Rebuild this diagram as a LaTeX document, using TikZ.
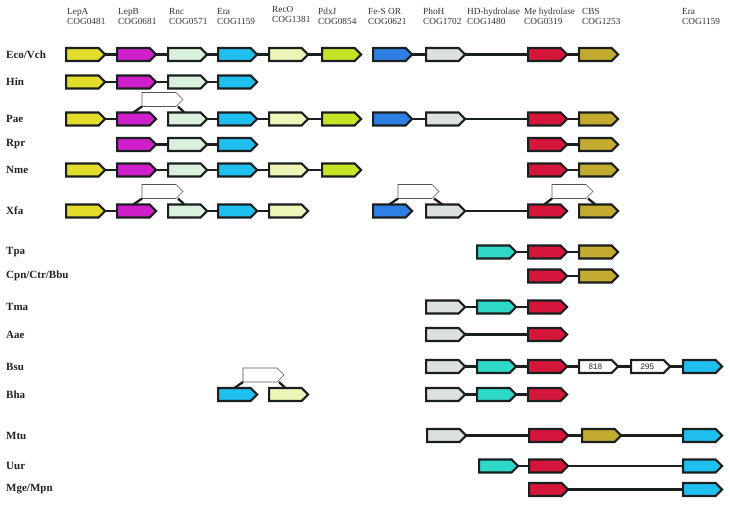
\documentclass[tikz,border=0pt]{standalone}
\usepackage{fontspec}
\setmainfont{Liberation Serif}
\newfontfamily\numfont{Liberation Sans}
\usetikzlibrary{shapes.symbols,calc}
\definecolor{cYellow}{HTML}{E3DC2B}
\definecolor{cMag}{HTML}{CF1FCB}
\definecolor{cMint}{HTML}{D9F1DC}
\definecolor{cCyan}{HTML}{1FBFEF}
\definecolor{cPale}{HTML}{EDF5B8}
\definecolor{cLime}{HTML}{C4E526}
\definecolor{cBlue}{HTML}{2D7FE3}
\definecolor{cGray}{HTML}{DCE0DF}
\definecolor{cTeal}{HTML}{2FD9C9}
\definecolor{cRed}{HTML}{D3163A}
\definecolor{cGold}{HTML}{C2AB2E}
\definecolor{edge}{HTML}{1A1E1E}
\definecolor{insedge}{HTML}{555555}
\definecolor{labtxt}{HTML}{222222}
\definecolor{hdrtxt}{HTML}{333333}
\newcommand\gn[4]{\node[gene,fill=#4] (#1) at (#2+1.1,#3) {};}
\begin{document}
\begin{tikzpicture}[x=1pt,y=-1pt,
 gene/.style={signal, signal to=east, draw=edge, line width=2.2pt, minimum width=39pt, minimum height=13pt, inner sep=0pt, outer sep=0pt, anchor=west},
 ins/.style={signal, signal to=east, draw=insedge, line width=0.6pt, fill=white, minimum width=41pt, minimum height=14pt, inner sep=0pt, outer sep=0pt, anchor=west},
 link/.style={draw=edge, line width=2.3pt},
 lab/.style={anchor=west, font=\fontsize{11}{12}\selectfont\bfseries, text=labtxt, inner sep=0pt},
 hdr/.style={anchor=north west, align=left, font=\fontsize{9.3}{10}\selectfont, inner sep=0pt, text=hdrtxt},
 num/.style={font=\numfont\fontsize{8}{9}\selectfont, text=labtxt}]
\fill[white] (0,0) rectangle (730,504);
\useasboundingbox (0,0) rectangle (730,504);
% headers
\node[hdr] (hA) at (67,8) {LepA\\COG0481};
\node[hdr] (hB) at (118,8) {LepB\\COG0681};
\node[hdr] (hC) at (169,8) {Rnc\\COG0571};
\node[hdr] (hD) at (217,8) {Era\\COG1159};
\node[hdr] (hE) at (272,6) {RecO\\COG1381};
\node[hdr] (hF) at (318,8) {PdxJ\\COG0854};
\node[hdr] (hG) at (368,8) {Fe-S OR\\COG0621};
\node[hdr] (hH) at (423,8) {PhoH\\COG1702};
\node[hdr] (hI) at (467,8) {HD-hydrolase\\COG1480};
\node[hdr] (hJ) at (524,8) {Me hydrolase\\COG0319};
\node[hdr] (hK) at (582,8) {CBS\\COG1253};
\node[hdr] (hL) at (682,8) {Era\\COG1159};
% labels
\node[lab] (l1) at (6,54.5) {Eco/Vch};
\node[lab] (l2) at (6,82) {Hin};
\node[lab] (l3) at (6,119) {Pae};
\node[lab] (l4) at (6,144.5) {Rpr};
\node[lab] (l5) at (6,170) {Nme};
\node[lab] (l6) at (6,211) {Xfa};
\node[lab] (l7) at (6,252) {Tpa};
\node[lab] (l8) at (6,276) {Cpn/Ctr/Bbu};
\node[lab] (l9) at (6,307) {Tma};
\node[lab] (l10) at (6,334.5) {Aae};
\node[lab] (l11) at (6,366.5) {Bsu};
\node[lab] (l12) at (6,394.5) {Bha};
\node[lab] (l13) at (6,435.5) {Mtu};
\node[lab] (l14) at (6,466) {Uur};
\node[lab] (l15) at (6,489.5) {Mge/Mpn};
% Eco/Vch
\gn{e1}{65}{54.5}{cYellow}\gn{e2}{116}{54.5}{cMag}\gn{e3}{167}{54.5}{cMint}
\gn{e4}{217}{54.5}{cCyan}\gn{e5}{268}{54.5}{cPale}\gn{e6}{321}{54.5}{cLime}
\gn{e7}{372}{54.5}{cBlue}\gn{e8}{425}{54.5}{cGray}\gn{e10}{527}{54.5}{cRed}\gn{e11}{578}{54.5}{cGold}
\draw[link] (e1.east)--(e2.west) (e2.east)--(e3.west) (e3.east)--(e4.west) (e4.east)--(e5.west) (e5.east)--(e6.west)
 (e7.east)--(e8.west) (e8.east)--(e10.west) (e10.east)--(e11.west);
% Hin
\gn{h1}{65}{82}{cYellow}\gn{h2}{116}{82}{cMag}\gn{h3}{167}{82}{cMint}\gn{h4}{217}{82}{cCyan}
\draw[link] (h1.east)--(h2.west) (h2.east)--(h3.west) (h3.east)--(h4.west);
% Pae
\gn{p1}{65}{119}{cYellow}\gn{p2}{116}{119}{cMag}\gn{p3}{167}{119}{cMint}
\gn{p4}{217}{119}{cCyan}\gn{p5}{268}{119}{cPale}\gn{p6}{321}{119}{cLime}
\gn{p7}{372}{119}{cBlue}\gn{p8}{425}{119}{cGray}\gn{p10}{527}{119}{cRed}\gn{p11}{578}{119}{cGold}
\draw[link] (p1.east)--(p2.west) (p3.east)--(p4.west) (p4.east)--(p5.west) (p5.east)--(p6.west)
 (p7.east)--(p8.west) (p8.east)--(p10.west) (p10.east)--(p11.west);
\node[ins] (pi) at (142,99.5) {};
\draw[link] (p2.north) -- (pi.south west) ($(pi.south west)+(36,0)$) -- (p3.north);
% Rpr
\gn{r2}{116}{144.5}{cMag}\gn{r3}{167}{144.5}{cMint}\gn{r4}{217}{144.5}{cCyan}
\gn{r10}{527}{144.5}{cRed}\gn{r11}{578}{144.5}{cGold}
\draw[link] (r2.east)--(r3.west) (r3.east)--(r4.west) (r10.east)--(r11.west);
% Nme
\gn{n1}{65}{170}{cYellow}\gn{n2}{116}{170}{cMag}\gn{n3}{167}{170}{cMint}
\gn{n4}{217}{170}{cCyan}\gn{n5}{268}{170}{cPale}\gn{n6}{321}{170}{cLime}
\gn{n10}{527}{170}{cRed}\gn{n11}{578}{170}{cGold}
\draw[link] (n1.east)--(n2.west) (n2.east)--(n3.west) (n3.east)--(n4.west) (n4.east)--(n5.west) (n5.east)--(n6.west)
 (n10.east)--(n11.west);
% Xfa
\gn{x1}{65}{211}{cYellow}\gn{x2}{116}{211}{cMag}\gn{x3}{167}{211}{cMint}
\gn{x4}{217}{211}{cCyan}\gn{x5}{268}{211}{cPale}
\gn{x7}{372}{211}{cBlue}\gn{x8}{425}{211}{cGray}\gn{x10}{527}{211}{cRed}\gn{x11}{578}{211}{cGold}
\draw[link] (x1.east)--(x2.west) (x3.east)--(x4.west) (x4.east)--(x5.west) (x8.east)--(x10.west);
\node[ins] (xi1) at (142,191.5) {};
\draw[link] (x2.north) -- (xi1.south west) ($(xi1.south west)+(36,0)$) -- (x3.north);
\node[ins] (xi2) at (398,191.5) {};
\draw[link] (x7.north) -- (xi2.south west) ($(xi2.south west)+(36,0)$) -- (x8.north);
\node[ins] (xi3) at (552,191.5) {};
\draw[link] (x10.north) -- (xi3.south west) ($(xi3.south west)+(36,0)$) -- (x11.north);
% Tpa
\gn{t9}{476}{252}{cTeal}\gn{t10}{527}{252}{cRed}\gn{t11}{578}{252}{cGold}
\draw[link] (t9.east)--(t10.west) (t10.east)--(t11.west);
% Cpn/Ctr/Bbu
\gn{c10}{527}{276}{cRed}\gn{c11}{578}{276}{cGold}
\draw[link] (c10.east)--(c11.west);
% Tma
\gn{m8}{425}{307}{cGray}\gn{m9}{476}{307}{cTeal}\gn{m10}{527}{307}{cRed}
\draw[link] (m8.east)--(m9.west) (m9.east)--(m10.west);
% Aae
\gn{a8}{425}{334.5}{cGray}\gn{a10}{527}{334.5}{cRed}
\draw[link] (a8.east)--(a10.west);
% Bsu
\gn{b8}{425}{366.5}{cGray}\gn{b9}{476}{366.5}{cTeal}\gn{b10}{527}{366.5}{cRed}
\node[gene,fill=white] (b11) at (579.1,366.5) {};
\node[num] (b11t) at (b11.center) {818};
\node[gene,fill=white] (b12) at (631.1,366.5) {};
\node[num] (b12t) at (b12.center) {295};
\gn{b13}{682}{366.5}{cCyan}
\draw[link] (b8.east)--(b9.west) (b9.east)--(b10.west) (b10.east)--(b11.west) (b11.east)--(b12.west) (b12.east)--(b13.west);
% Bha
\gn{k4}{217}{394.5}{cCyan}\gn{k5}{268}{394.5}{cPale}
\node[ins] (ki) at (243,375) {};
\draw[link] (k4.north) -- (ki.south west) ($(ki.south west)+(36,0)$) -- (k5.north);
\gn{k8}{425}{394.5}{cGray}\gn{k9}{476}{394.5}{cTeal}\gn{k10}{527}{394.5}{cRed}
\draw[link] (k8.east)--(k9.west) (k9.east)--(k10.west);
% Mtu
\gn{u8}{426}{435.5}{cGray}\gn{u10}{528}{435.5}{cRed}\gn{u11}{581}{435.5}{cGold}\gn{u13}{682}{435.5}{cCyan}
\draw[link] (u8.east)--(u10.west) (u10.east)--(u11.west) (u11.east)--(u13.west);
% Uur
\gn{v9}{478}{466}{cTeal}\gn{v10}{528}{466}{cRed}\gn{v13}{682}{466}{cCyan}
\draw[link] (v9.east)--(v10.west) (v10.east)--(v13.west);
% Mge/Mpn
\gn{g10}{528}{489.5}{cRed}\gn{g13}{682}{489.5}{cCyan}
\draw[link] (g10.east)--(g13.west);
\end{tikzpicture}
\end{document}
